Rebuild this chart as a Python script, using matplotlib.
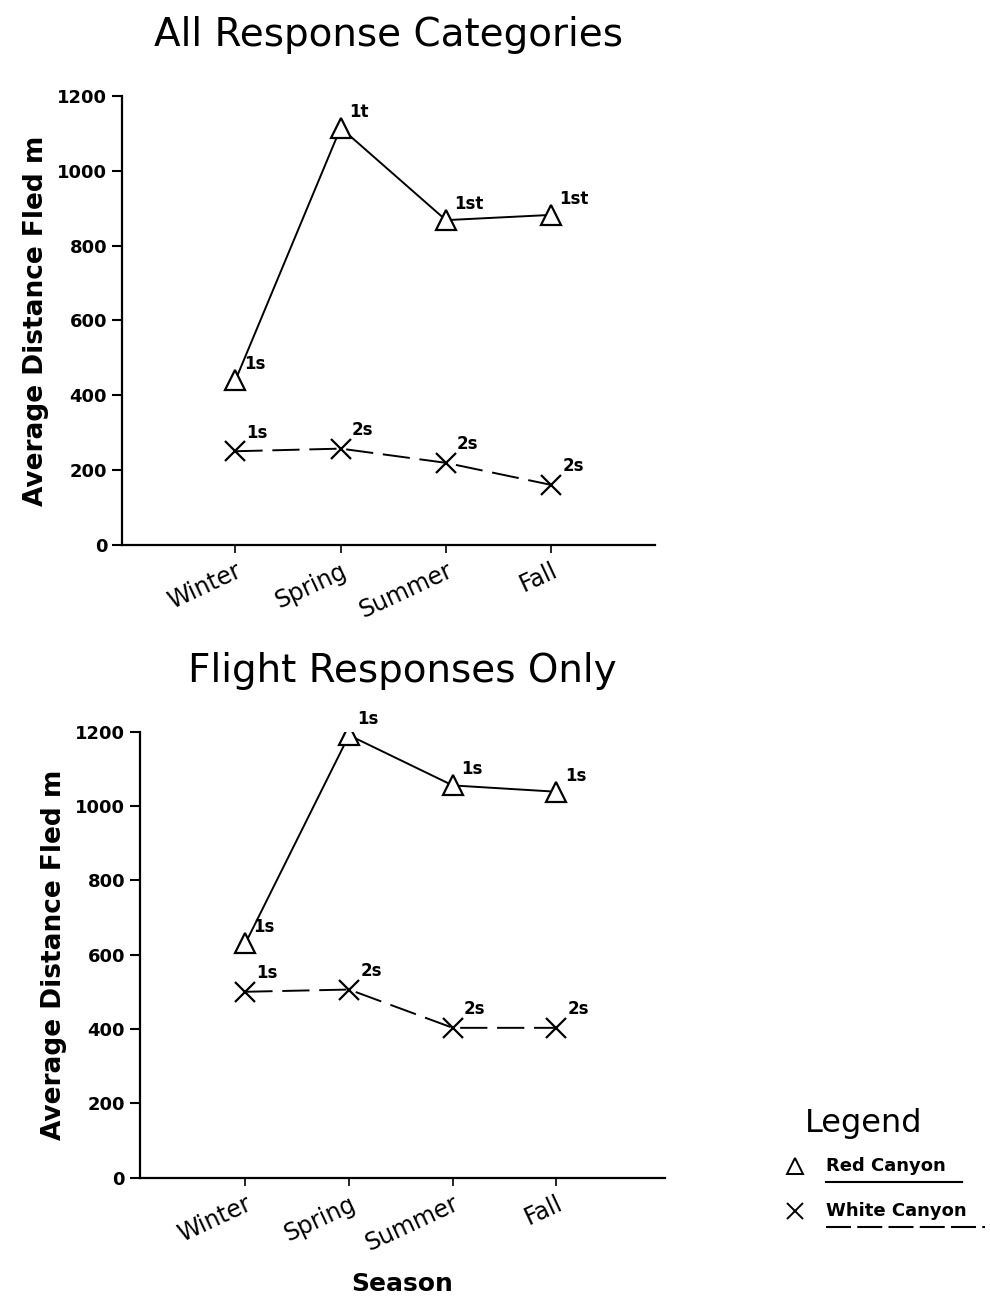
import matplotlib.pyplot as plt
from matplotlib.lines import Line2D

plt.rcParams['font.family'] = ['DejaVu Sans']

seasons = ['Winter', 'Spring', 'Summer', 'Fall']

# all response categories
red_all = [440, 1115, 868, 882]
white_all = [250, 257, 219, 160]
red_all_lbl = ['1s', '1t', '1st', '1st']
white_all_lbl = ['1s', '2s', '2s', '2s']

# flight responses only
red_flight = [630, 1190, 1055, 1038]
white_flight = [500, 506, 403, 403]
red_flight_lbl = ['1s', '1s', '1s', '1s']
white_flight_lbl = ['1s', '2s', '2s', '2s']

yticks = [0, 200, 400, 600, 800, 1000, 1200]


def panel(ax, title, red, white, rlbl, wlbl, x0):
    x = list(range(1, len(seasons) + 1))
    ax.plot(x, red, color='black', lw=1.4, marker='^', ms=14,
            mfc='white', mec='black', mew=1.6, zorder=3)
    ax.plot(x, white, color='black', lw=1.4, ls=(0, (14, 5)), marker='x',
            ms=14, mew=1.6, zorder=3)
    for xi, yi, t in zip(x, red, rlbl):
        ax.annotate(t, (xi, yi), xytext=(6, 5), textcoords='offset points',
                    fontsize=12, fontweight='bold', ha='left', va='bottom')
    for xi, yi, t in zip(x, white, wlbl):
        ax.annotate(t, (xi, yi), xytext=(8, 7), textcoords='offset points',
                    fontsize=12, fontweight='bold', ha='left', va='bottom')
    ax.set_xlim(x0, x0 + 5.07)
    ax.set_ylim(0, 1200)
    ax.set_yticks(yticks)
    ax.set_yticklabels([str(v) for v in yticks], fontsize=13, fontweight='bold')
    ax.set_xticks(x)
    ax.set_xticklabels(seasons, rotation=25, ha='right', rotation_mode='anchor',
                       fontsize=17)
    ax.tick_params(axis='y', length=7, width=1.5, direction='out')
    ax.tick_params(axis='x', length=6, width=1.2, direction='out', pad=4)
    ax.spines['top'].set_visible(False)
    ax.spines['right'].set_visible(False)
    ax.spines['left'].set_linewidth(1.6)
    ax.spines['bottom'].set_linewidth(1.6)
    ax.set_ylabel('Average Distance Fled m', fontsize=19, fontweight='bold',
                  labelpad=6)
    ax.set_title(title, fontsize=28, pad=36)


fig = plt.figure(figsize=(9.9, 12.97), dpi=100)
ax1 = fig.add_axes([0.123, 0.580, 0.539, 0.346])
ax2 = fig.add_axes([0.141, 0.092, 0.531, 0.344])

panel(ax1, 'All Response Categories', red_all, white_all,
      red_all_lbl, white_all_lbl, -0.08)
panel(ax2, 'Flight Responses Only', red_flight, white_flight,
      red_flight_lbl, white_flight_lbl, -0.02)
ax2.set_xlabel('Season', fontsize=18, fontweight='bold', labelpad=12)

# legend block, lower right
fig.text(0.872, 0.134, 'Legend', fontsize=23, ha='center', va='center')
fig.add_artist(Line2D([0.803], [0.101], marker='^', ms=11, mfc='white',
                      mec='black', mew=1.4, transform=fig.transFigure))
fig.add_artist(Line2D([0.803], [0.066], marker='x', ms=12, mew=1.4,
                      color='black', transform=fig.transFigure))
fig.text(0.834, 0.101, 'Red Canyon', fontsize=13, fontweight='bold',
         va='center')
fig.text(0.834, 0.066, 'White Canyon', fontsize=13, fontweight='bold',
         va='center')
fig.add_artist(Line2D([0.834, 0.972], [0.089, 0.089], color='black', lw=1.5,
                      transform=fig.transFigure))
fig.add_artist(Line2D([0.834, 0.995], [0.054, 0.054], color='black', lw=1.5,
                      ls=(0, (12, 3)), transform=fig.transFigure))

fig.savefig('out.png', dpi=100)
